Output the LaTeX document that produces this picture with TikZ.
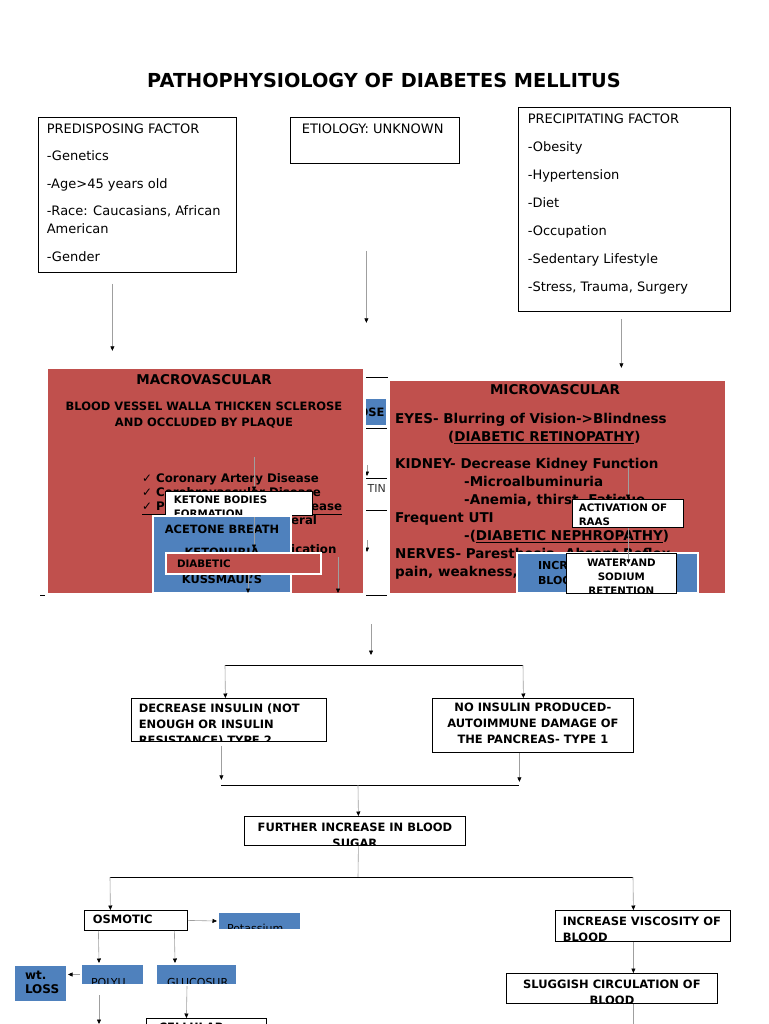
\documentclass[tikz,border=0pt]{standalone}
\usepackage{fontspec}
\setmainfont{DejaVu Sans}
\usetikzlibrary{arrows.meta}
\definecolor{dmred}{HTML}{C0504D}
\definecolor{dmblue}{HTML}{4F81BD}
\newcommand\ftitle{\bfseries\fontsize{19.3}{22}\selectfont}
\newcommand\freg{\fontsize{13}{18}\selectfont}
\newcommand\fhead{\bfseries\fontsize{13.5}{18}\selectfont}
\newcommand\fmac{\bfseries\fontsize{11.5}{16}\selectfont}
\newcommand\fchk{\bfseries\fontsize{11.8}{14}\selectfont}
\newcommand\fmic{\bfseries\fontsize{13.5}{18}\selectfont}
\newcommand\fflow{\bfseries\fontsize{11.5}{16}\selectfont}
\newcommand\fsm{\bfseries\fontsize{10.3}{14}\selectfont}
\newcommand\facet{\bfseries\fontsize{11.4}{14}\selectfont}
\newcommand\fbl{\bfseries\fontsize{11}{15}\selectfont}
\newcommand\flite{\fontsize{11}{14}\selectfont}
\newcommand\fwt{\bfseries\fontsize{12}{14}\selectfont}

\begin{document}
\begin{tikzpicture}[x=1pt,y=-1pt,
	sz/.style 2 args={minimum width=#1pt,minimum height=#2pt},
	box/.style={draw=black,line width=.8pt,fill=white,anchor=north west,inner sep=0pt},
	redbox/.style={draw=white,line width=2.5pt,fill=dmred,anchor=north west,inner sep=0pt},
	bluebox/.style={draw=white,line width=2pt,fill=dmblue,anchor=north west,inner sep=0pt},
	intext/.style={inner sep=0pt,minimum width=0pt,minimum height=0pt,draw=none,fill=none},
	lt/.style n args={3}{path picture={\node[intext,anchor=north west,align=left,font=#2] at ([shift={(#1)}]path picture bounding box.north west) {#3};}},
	ct/.style n args={3}{path picture={\node[intext,anchor=north,align=center,font=#2] at ([shift={(#1)}]path picture bounding box.north) {#3};}},
	arr/.style={draw=gray!75,line width=.6pt,-{Triangle[width=4pt,length=4.5pt,color=black]}},
	hline/.style={draw=black,line width=.8pt},
	vline/.style={draw=gray!75,line width=.6pt}]
	\fill[white] (0,0) rectangle (768,1024);
	\useasboundingbox (0,0) rectangle (768,1024);

	\node[font=\ftitle] (title) at (384,80) {PATHOPHYSIOLOGY OF DIABETES MELLITUS};

	\node[box,sz={198}{155},lt={8,6}{\freg}{PREDISPOSING FACTOR\\[9.5pt]-Genetics\\[9.5pt]-Age>45 years old\\[9.5pt]-Race: Caucasians, African\\American\\[9.5pt]-Gender}] (pre) at (38,117) {};
	\node[box,sz={169}{46},lt={11,6}{\freg}{ETIOLOGY: UNKNOWN}] (eti) at (290,117) {};
	\node[box,sz={212}{204},lt={9,6}{\freg}{PRECIPITATING FACTOR\\[10pt]-Obesity\\[10pt]-Hypertension\\[10pt]-Diet\\[10pt]-Occupation\\[10pt]-Sedentary Lifestyle\\[10pt]-Stress, Trauma, Surgery}] (prc) at (518,107) {};
	\draw[arr] ([shift={(-25,11)}]pre.south) -- ++(0,67);
	\draw[arr] ([shift={(-8.5,87)}]eti.south) -- ++(0,72);
	\draw[arr] ([shift={(-3,7)}]prc.south) -- ++(0,49);

	\draw[hline] (40,595) -- (728,595);
	\node[box,sz={67}{51}] (hid1) at (320,377) {};
	\node[bluebox,sz={56}{28}] (glu) at (330,397) {};
	\node[font=\fmac,anchor=east] (gluT) at (glu.east) {GLUCOSE};
	\node[box,sz={67}{32}] (hid2) at (320,478) {};
	\node[font=\flite,anchor=west,text=black!80] (hidT) at (364,488) {TIN};
	\draw[arr] (367,465) -- (367,476);
	\draw[arr] (367,540) -- (367,552);

	\node[redbox,sz={318}{227}] (mac) at (45,366) {};
	\node[font=\fhead] (macT) at (204,380) {MACROVASCULAR};
	\node[font=\fmac,align=center] (macB) at (204,415) {BLOOD VESSEL WALLA THICKEN SCLEROSE\\AND OCCLUDED BY PLAQUE};
	\node[font=\fchk,align=left,anchor=north west,inner sep=0pt] (chk) at (142,473) {✓ Coronary Artery Disease\\✓ Cerebrovascular Disease\\\underline{✓ Peripheral Vascular Disease}};
	\node[font=\fchk,anchor=base west,inner sep=0pt] (frg1) at (291,524) {eral};
	\node[font=\fchk,anchor=base west,inner sep=0pt] (frg2) at (291,553) {ication};
	\draw[arr] (254,457) -- (254,491);
	\node[box,sz={147}{24},lt={8,4}{\fsm}{KETONE BODIES\\FORMATION}] (ket) at (165,491) {};
	\node[bluebox,sz={138}{77},ct={0,8}{\facet}{ACETONE BREATH\\[9pt]KETONURIA\\[13pt]KUSSMAUL'S}] (ace) at (152,515) {};
	\draw[arr] (254,517) -- (254,549);
	\node[redbox,line width=2pt,sz={155}{21},lt={10,6}{\fsm}{DIABETIC}] (dka) at (165,552) {};
	\draw[arr] (248,575) -- (248,593);
	\draw[arr] (338,557) -- (338,593);

	\node[redbox,sz={338}{215}] (mic) at (387,378) {};
	\node[font=\fhead] (micT) at (555,390) {MICROVASCULAR};
	\node[font=\fmic,align=left,anchor=north west,inner sep=0pt] (micB) at (395,413) {EYES- Blurring of Vision->Blindness\\\hspace*{53pt}(\underline{DIABETIC RETINOPATHY})\\[9pt]KIDNEY- Decrease Kidney Function\\\hspace*{69pt}-Microalbuminuria\\\hspace*{69pt}-Anemia, thirst, Fatigue\\Frequent UTI\\\hspace*{69pt}-(\underline{DIABETIC NEPHROPATHY})\\NERVES- Paresthesia, Absent Reflex\\pain, weakness,};
	\draw[arr] (628,466) -- (628,499);
	\node[box,sz={111}{28},lt={6,4}{\fsm}{ACTIVATION OF\\RAAS}] (raas) at (572,499) {};
	\node[bluebox,sz={181}{40},lt={20,7}{\fbl}{INCREASE\\BLOOD PRESSURE}] (bp) at (516,552) {};
	\node[box,sz={110}{40},ct={0,5}{\fsm}{WATER AND\\SODIUM\\RETENTION}] (wat) at (566,553) {};
	\draw[arr] ([xshift=.5pt]raas.south) -- ++(0,36);

	\draw[arr] (371,624) -- (371,655);
	\draw[hline] (225,665) -- (523,665);
	\node[box,sz={195}{43},lt={7,5}{\fflow}{DECREASE INSULIN (NOT\\ENOUGH OR INSULIN\\RESISTANCE) TYPE 2}] (dec) at (131,698) {};
	\node[box,sz={201}{54},ct={0,4}{\fflow}{NO INSULIN PRODUCED-\\AUTOIMMUNE DAMAGE OF\\THE PANCREAS- TYPE 1}] (noi) at (432,698) {};
	\draw[arr] (225,665) -- ([xshift=-3.5pt]dec.north);
	\draw[arr] (523,665) -- ([xshift=-9.5pt]noi.north);
	\draw[arr] ([shift={(-7.5,4)}]dec.south) -- ++(0,34);
	\draw[arr] ([xshift=-13.5pt]noi.south) -- ++(0,29);
	\draw[hline] (221,785) -- (519,785);
	\node[box,sz={221}{29},ct={0,6}{\fflow}{FURTHER INCREASE IN BLOOD\\SUGAR}] (fur) at (244,816) {};
	\draw[arr] (358,785) -- ([xshift=3.5pt]fur.north);
	\draw[vline] ([xshift=3.5pt]fur.south) -- (358,877);
	\draw[hline] (110,877) -- (633,877);

	\node[box,sz={103}{20},lt={8,4}{\fflow}{OSMOTIC}] (osm) at (84,910) {};
	\node[bluebox,sz={83}{18},lt={8,11}{\flite}{Potassium}] (pot) at (217,911) {};
	\node[bluebox,sz={63}{21},lt={9,13}{\flite}{POLYU}] (pol) at (80,963) {};
	\node[bluebox,sz={81}{21},lt={10,13}{\flite}{GLUCOSUR}] (glc) at (155,963) {};
	\node[bluebox,sz={53}{37},lt={10,5}{\fwt}{wt.\\LOSS}] (wtl) at (13,964) {};
	\node[box,sz={120}{30},lt={12,4}{\fflow}{CELLULAR}] (cel) at (146,1018) {};
	\draw[arr] (110,877) -- ([xshift=-25.5pt]osm.north);
	\draw[arr] (osm.east) -- (pot.west);
	\draw[arr] ([xshift=-37.5pt]osm.south) -- ([xshift=-13.5pt]pol.north);
	\draw[arr] ([xshift=38.5pt]osm.south) -- ([xshift=-21.5pt]glc.north);
	\draw[arr] (pol.west) -- (pol.west -| wtl.east);
	\draw[arr] ([shift={(-13.5,9)}]pol.south) -- ++(0,29);
	\draw[arr] ([xshift=-9.5pt]glc.south) -- ([xshift=-20pt]cel.north);

	\node[box,sz={175}{31},lt={7,6}{\fflow}{INCREASE VISCOSITY OF\\BLOOD}] (vis) at (555,910) {};
	\node[box,sz={211}{30},ct={0,6}{\fflow}{SLUGGISH CIRCULATION OF\\BLOOD}] (slg) at (506,973) {};
	\draw[arr] (633,877) -- ([xshift=-9.5pt]vis.north);
	\draw[arr] ([xshift=-9.5pt]vis.south) -- ([xshift=21.5pt]slg.north);
	\draw[vline] ([xshift=21.5pt]slg.south) -- ++(0,25);
\end{tikzpicture}
\end{document}
